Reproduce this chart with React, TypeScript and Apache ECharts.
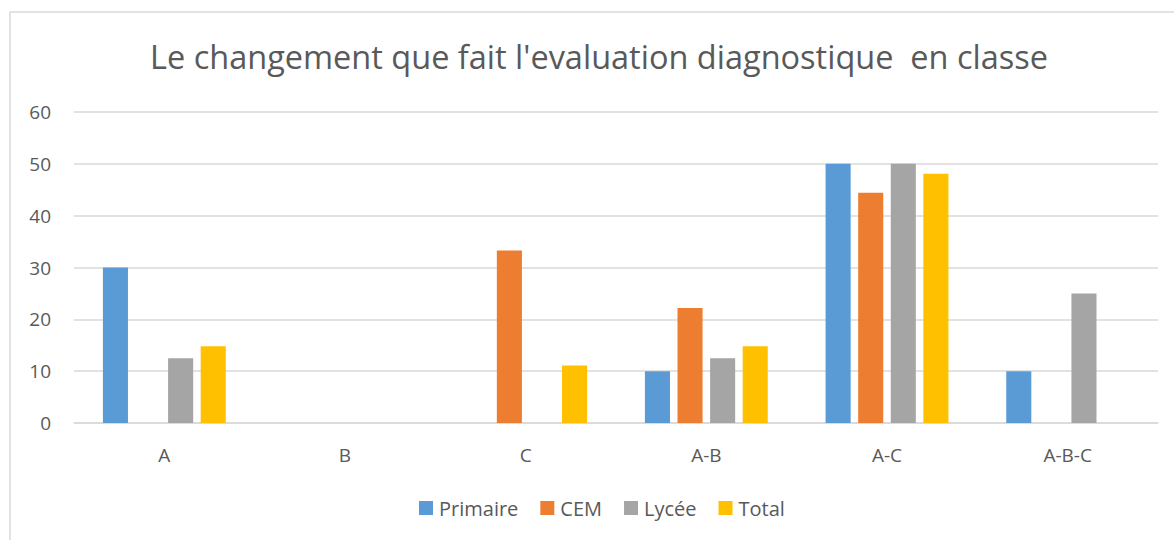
import React, { useEffect, useRef } from "react";
import * as echarts from "echarts";

const categories = ["A", "B", "C", "A-B", "A-C", "A-B-C"];
const primaire = [30, 0, 0, 10, 50, 10];
const cem = [0, 0, 33.3, 22.2, 44.4, 0];
const lycee = [12.5, 0, 0, 12.5, 50, 25];
const total = [14.8, 0, 11.1, 14.8, 48.1, 0];
const seriesNames = ["Primaire", "CEM", "Lycée", "Total"];
const colors = ["#5B9BD5", "#ED7D31", "#A5A5A5", "#FFC000"];
const titleText = "Le changement que fait l'evaluation diagnostique  en classe";

const FONT = "'Open Sans', 'DejaVu Sans', sans-serif";

export default function App() {
  const ref = useRef<HTMLDivElement>(null);
  useEffect(() => {
    if (!ref.current) return;
    const chart = echarts.init(ref.current, null, { renderer: "svg" });
    const dataSets = [primaire, cem, lycee, total];
    chart.setOption({
      animation: false,
      backgroundColor: "#ffffff",
      textStyle: { fontFamily: FONT },
      title: {
        text: titleText,
        left: 594,
        textAlign: "center",
        top: 35,
        textStyle: { fontFamily: FONT, fontSize: 32.5, fontWeight: "normal", color: "#595959" },
      },
      legend: {
        data: seriesNames,
        left: 414,
        top: 493,
        itemWidth: 14,
        itemHeight: 14,
        itemGap: 22,
        icon: "rect",
        textStyle: { fontFamily: FONT, fontSize: 20, color: "#595959", padding: [0, 0, 0, 1] },
      },
      grid: { left: 74, right: 16, top: 112, bottom: 117, containLabel: false },
      xAxis: {
        type: "category",
        data: categories,
        axisLine: { show: true, lineStyle: { color: "#D9D9D9", width: 1.5 } },
        axisTick: { show: false },
        axisLabel: { fontFamily: FONT, fontSize: 19, color: "#595959", margin: 22 },
      },
      yAxis: {
        type: "value",
        min: 0,
        max: 60,
        interval: 10,
        axisLine: { show: false },
        axisTick: { show: false },
        axisLabel: { fontFamily: FONT, fontSize: 19, color: "#595959", margin: 23 },
        splitLine: { lineStyle: { color: "#D9D9D9", width: 1.5 } },
      },
      series: seriesNames.map((name, i) => ({
        name,
        type: "bar",
        data: dataSets[i],
        itemStyle: { color: colors[i] },
        barGap: "30%",
        barCategoryGap: "32%",
      })),
      graphic: [
        {
          type: "rect",
          shape: { x: 10, y: 12, width: 1300, height: 700 },
          style: { fill: "none", stroke: "#D9D9D9", lineWidth: 1.5 },
          silent: true,
          z: -1,
        },
      ],
    });
    return () => chart.dispose();
  }, []);
  return (
    <div
      ref={ref}
      style={{ position: "fixed", left: 0, top: 0, width: 1174, height: 540 }}
    />
  );
}
